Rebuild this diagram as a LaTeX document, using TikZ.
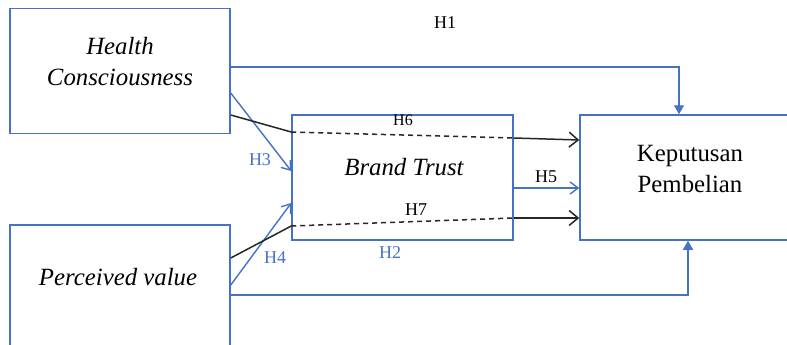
\documentclass[tikz,border=0pt]{standalone}
\usepackage{fontspec}
\setmainfont{Liberation Serif}
\usetikzlibrary{arrows.meta}
\definecolor{wblue}{HTML}{4472C4}
\begin{document}
\begin{tikzpicture}[x=1pt,y=-1pt,
  box/.style={draw=wblue, line width=1.5pt, minimum width=220pt, minimum height=125pt, inner sep=0pt},
  lbl/.style={font=\fontsize{24.8}{31}\selectfont, align=center, inner sep=0pt, anchor=base},
  hlbl/.style={font=\fontsize{18}{20}\selectfont, inner sep=0pt, anchor=base},
  blueline/.style={draw=wblue, line width=1.4pt},
  darkline/.style={draw=black!85, line width=1.5pt},
  barb/.style={-{Straight Barb[length=9pt,width=15pt]}},
  bluebarb/.style={-{Straight Barb[length=8pt,width=12pt]}},
  solidtip/.style={-{Triangle[length=9pt,width=10pt]}},
]
\clip (0,0) rectangle (787,345);

% boxes
\node[box] (hc) at (120,71) {};
\node[box, minimum height=140pt] (pv) at (120,295) {};
\node[box, minimum width=221pt] (bt) at (402.5,177.5) {};
\node[box] (kp) at (690,177.5) {};

% box texts (base anchor sits on the last line)
\node[lbl, font=\fontsize{24.8}{31}\selectfont\itshape] (hctext) at (120,85) {Health\\Consciousness};
\node[lbl, font=\fontsize{24.8}{31}\selectfont\itshape] (pvtext) at (118,285) {Perceived value};
\node[lbl, font=\fontsize{24.8}{31}\selectfont\itshape] (bttext) at (404,175) {Brand Trust};
\node[lbl] (kptext) at (690,192) {Keputusan\\Pembelian};

% direct paths to the decision box
\draw[blueline, solidtip] (hc.east |- 0,67) -| (kp.north -| 679,0);
\draw[blueline, solidtip] (pv.east |- 0,295) -| (kp.south -| 688,0);

% paths into brand trust
\draw[blueline, bluebarb] (hc.east |- 0,93) -- (bt.west |- 0,171);
\draw[blueline, bluebarb] (pv.east |- 0,285) -- (bt.west |- 0,203);
\draw[blueline, bluebarb] (bt.east |- 0,188) -- (kp.west |- 0,188);

% mediated paths through brand trust
\coordinate (h6a) at (bt.west |- 0,132);
\coordinate (h6b) at (bt.east |- 0,138);
\draw[darkline] (hc.east |- 0,115) -- (h6a);
\draw[darkline, dash pattern=on 5pt off 4pt] (h6a) -- (h6b);
\draw[darkline, barb] (h6b) -- (kp.west |- 0,140);

\coordinate (h7a) at (bt.west |- 0,226);
\coordinate (h7b) at (bt.east |- 0,218);
\draw[darkline] (pv.east |- 0,258) -- (h7a);
\draw[darkline, dash pattern=on 5pt off 4pt] (h7a) -- (h7b);
\draw[darkline, barb] (h7b) -- (kp.west |- 0,218);

% hypothesis labels
\node[hlbl] (l1) at (445,29) {H1};
\node[hlbl, font=\fontsize{16}{18}\selectfont] (l6) at (403,125) {H6};
\node[hlbl] (l7) at (416,215) {H7};
\node[hlbl] (l5) at (546,182) {H5};
\node[hlbl, text=wblue] (l3) at (260,165) {H3};
\node[hlbl, text=wblue] (l4) at (275,263) {H4};
\node[hlbl, text=wblue] (l2) at (390,258) {H2};
\end{tikzpicture}
\end{document}
